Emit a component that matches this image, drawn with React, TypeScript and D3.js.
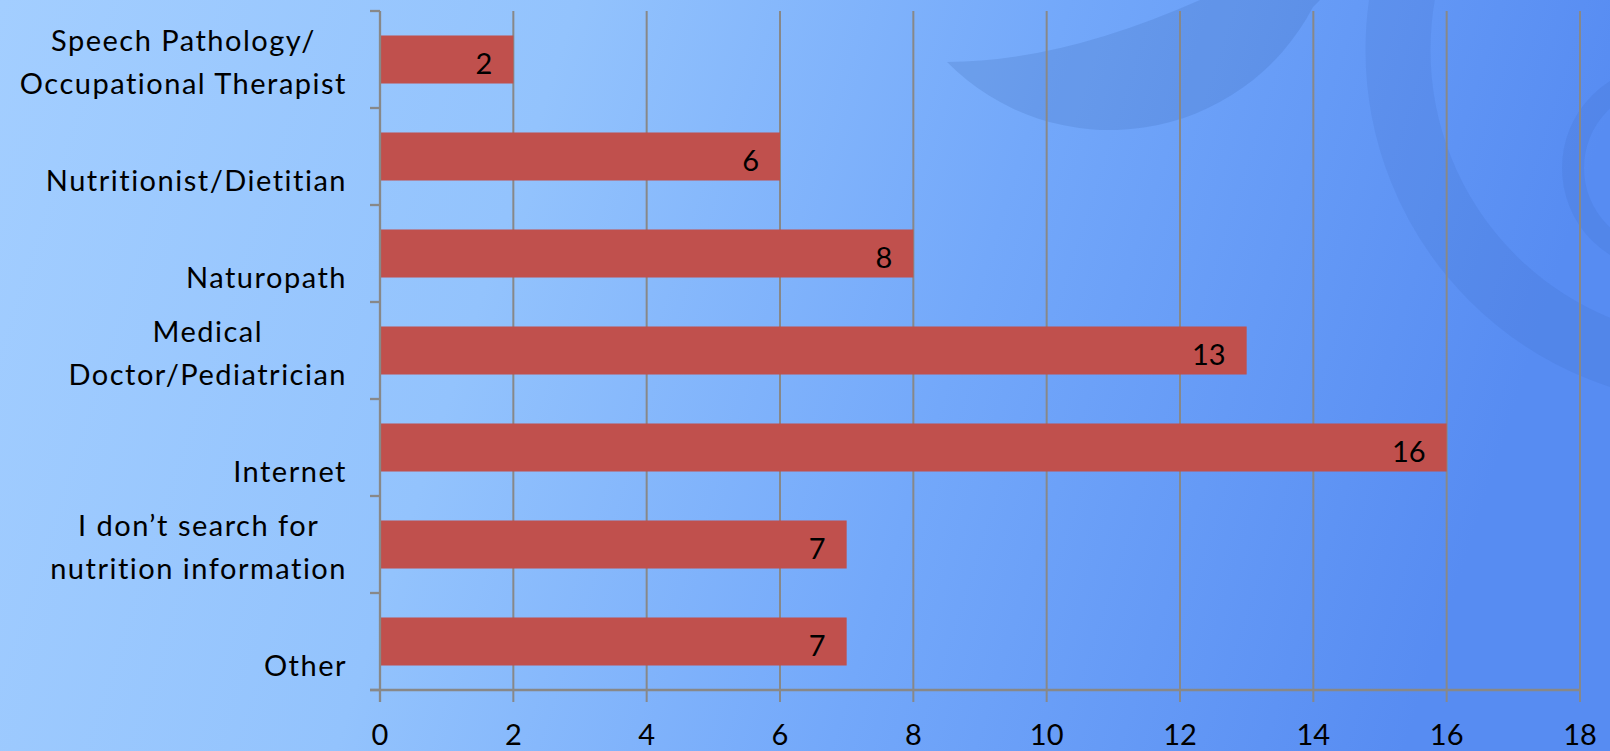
import React, { useEffect, useRef } from "react";
import * as d3 from "d3";

const categories: string[][] = [
  ["Speech Pathology/", "Occupational Therapist"],
  ["Nutritionist/Dietitian"],
  ["Naturopath"],
  ["Medical", "Doctor/Pediatrician"],
  ["Internet"],
  ["I don\u2019t search for", "nutrition information"],
  ["Other"],
];
const values: number[] = [2, 6, 8, 13, 16, 7, 7];
const xTicks: number[] = [0, 2, 4, 6, 8, 10, 12, 14, 16, 18];

const W = 1610;
const H = 751;
const FONT = "Lato, 'Open Sans', sans-serif";

export default function App() {
  const ref = useRef<SVGSVGElement | null>(null);

  useEffect(() => {
    document.body.style.margin = "0";
    document.body.style.overflow = "hidden";
    const svg = d3.select(ref.current);
    svg.selectAll("*").remove();
    svg.style("font-variant-ligatures", "none");

    const left = 380, right = 1580, top = 11, bottom = 690;
    const keys = categories.map((c) => c.join(" "));
    const x = d3.scaleLinear().domain([0, 18]).range([left, right]);
    const y = d3
      .scaleBand<string>()
      .domain(keys)
      .range([top, bottom])
      .paddingInner(0.505)
      .paddingOuter(0.2525);
    const step = y.step();

    // background
    const defs = svg.append("defs");
    const g = defs
      .append("linearGradient")
      .attr("id", "bg")
      .attr("x1", "0")
      .attr("y1", "0")
      .attr("x2", "1")
      .attr("y2", "0.15");
    g.append("stop").attr("offset", "0").attr("stop-color", "#A3CEFF");
    g.append("stop").attr("offset", "0.35").attr("stop-color", "#93C3FD");
    g.append("stop").attr("offset", "0.65").attr("stop-color", "#73A8FA");
    g.append("stop").attr("offset", "1").attr("stop-color", "#578CF2");
    svg.append("rect").attr("width", W).attr("height", H).attr("fill", "url(#bg)");

    const deco = svg.append("g").attr("fill", "rgb(50,90,160)");
    deco
      .append("path")
      .attr("d", "M947 62 A229 229 0 0 0 1313 7 L1320 0 L1200 0 Q1060 62 947 62 Z")
      .attr("fill-opacity", 0.17);
    deco
      .append("circle")
      .attr("cx", 1720)
      .attr("cy", 50)
      .attr("r", 322)
      .attr("fill", "none")
      .attr("stroke", "rgb(50,90,170)")
      .attr("stroke-opacity", 0.12)
      .attr("stroke-width", 65);
    deco
      .append("circle")
      .attr("cx", 1665)
      .attr("cy", 168)
      .attr("r", 92)
      .attr("fill", "none")
      .attr("stroke", "rgb(50,90,170)")
      .attr("stroke-opacity", 0.12)
      .attr("stroke-width", 22);

    const grey = "#888888";
    // gridlines
    svg
      .append("g")
      .selectAll("line")
      .data(xTicks.filter((t) => t > 0))
      .join("line")
      .attr("x1", (d) => x(d))
      .attr("x2", (d) => x(d))
      .attr("y1", top)
      .attr("y2", bottom + 12)
      .attr("stroke", grey)
      .attr("stroke-width", 2);

    // bars
    svg
      .append("g")
      .selectAll("rect")
      .data(values)
      .join("rect")
      .attr("x", x(0))
      .attr("y", (_d, i) => y(keys[i])!)
      .attr("width", (d) => x(d) - x(0))
      .attr("height", y.bandwidth())
      .attr("fill", "#C0504D");

    // axes
    svg
      .append("line")
      .attr("x1", x(0))
      .attr("x2", x(0))
      .attr("y1", top)
      .attr("y2", bottom + 12)
      .attr("stroke", grey)
      .attr("stroke-width", 2.3);
    svg
      .append("line")
      .attr("x1", x(0) - 10)
      .attr("x2", right)
      .attr("y1", bottom)
      .attr("y2", bottom)
      .attr("stroke", grey)
      .attr("stroke-width", 2.3);
    svg
      .append("g")
      .selectAll("line")
      .data(d3.range(keys.length + 1))
      .join("line")
      .attr("x1", x(0) - 10)
      .attr("x2", x(0))
      .attr("y1", (i) => top + i * step)
      .attr("y2", (i) => top + i * step)
      .attr("stroke", grey)
      .attr("stroke-width", 2.3);

    // x tick labels
    svg
      .append("g")
      .selectAll("text")
      .data(xTicks)
      .join("text")
      .attr("x", (d) => x(d))
      .attr("y", 745)
      .attr("text-anchor", "middle")
      .attr("font-family", FONT)
      .attr("font-size", 29)
      .attr("fill", "#000")
      .text((d) => String(d));

    // value labels
    svg
      .append("g")
      .selectAll("text")
      .data(values)
      .join("text")
      .attr("x", (d) => x(d) - 21)
      .attr("y", (_d, i) => y(keys[i])! + y.bandwidth() / 2 + 14)
      .attr("text-anchor", "end")
      .attr("font-family", FONT)
      .attr("font-size", 29)
      .attr("fill", "#000")
      .text((d) => String(d));

    // category labels
    const labelRight = 347;
    categories.forEach((lines, i) => {
      const cy = y(keys[i])! + y.bandwidth() / 2;
      const grp = svg.append("g");
      const texts = lines.map((ln, j) =>
        grp
          .append("text")
          .attr("y", cy + 34 - (lines.length - 1 - j) * 43)
          .attr("text-anchor", "middle")
          .attr("font-family", FONT)
          .attr("font-size", 29)
          .attr("letter-spacing", 1.5)
          .attr("fill", "#000")
          .text(ln)
      );
      const widths = texts.map((t) => (t.node() as SVGTextElement).getComputedTextLength());
      const maxW = Math.max(...widths);
      texts.forEach((t) => t.attr("x", labelRight - maxW / 2));
    });
  }, []);

  return <svg ref={ref} width={W} height={H} style={{ display: "block" }} />;
}
